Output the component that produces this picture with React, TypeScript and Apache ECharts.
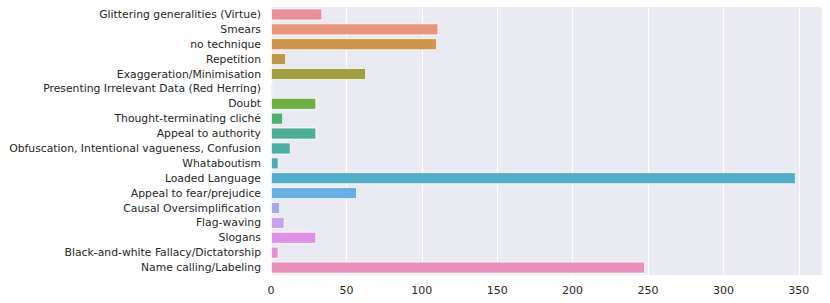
import React, { useEffect, useRef } from "react";
import * as echarts from "echarts";

const categories = [
  "Glittering generalities (Virtue)",
  "Smears",
  "no technique",
  "Repetition",
  "Exaggeration/Minimisation",
  "Presenting Irrelevant Data (Red Herring)",
  "Doubt",
  "Thought-terminating cliché",
  "Appeal to authority",
  "Obfuscation, Intentional vagueness, Confusion",
  "Whataboutism",
  "Loaded Language",
  "Appeal to fear/prejudice",
  "Causal Oversimplification",
  "Flag-waving",
  "Slogans",
  "Black-and-white Fallacy/Dictatorship",
  "Name calling/Labeling",
];

const counts = [34, 111, 110, 10, 63, 1, 30, 8, 30, 13, 5, 348, 57, 6, 9, 30, 5, 248];

const barColors = [
  "#E8919C",
  "#E8957E",
  "#D0954C",
  "#B99B48",
  "#A3A044",
  "#8DA644",
  "#6DAE45",
  "#4CB072",
  "#4CAF95",
  "#4CADA4",
  "#4DABB2",
  "#51ADC8",
  "#6AAFE2",
  "#A7A9EA",
  "#C6A3EA",
  "#DF91E8",
  "#E88FD4",
  "#E891BB",
];

const xTicks = [0, 50, 100, 150, 200, 250, 300, 350];

export default function App() {
  const ref = useRef<HTMLDivElement>(null);
  useEffect(() => {
    if (!ref.current) return;
    const chart = echarts.init(ref.current, undefined, { renderer: "svg" });
    const font = "DejaVu Sans";
    chart.setOption({
      animation: false,
      backgroundColor: "#ffffff",
      grid: {
        left: 271,
        right: 8,
        top: 7,
        bottom: 28,
        show: true,
        backgroundColor: "#EAEAF2",
        borderWidth: 0,
      },
      xAxis: {
        type: "value",
        min: 0,
        max: 365.4,
        interval: 50,
        axisLine: { show: false },
        axisTick: { show: false },
        splitLine: { show: true, lineStyle: { color: "#ffffff", width: 1.2 } },
        axisLabel: {
          show: true,
          fontFamily: font,
          fontSize: 11,
          color: "#262626",
          margin: 10,
          showMaxLabel: false,
          formatter: (v: number) => (xTicks.includes(v) ? String(v) : ""),
        },
      },
      yAxis: {
        type: "category",
        inverse: true,
        data: categories,
        axisLine: { show: false },
        axisTick: { show: false },
        splitLine: { show: false },
        axisLabel: {
          fontFamily: font,
          fontSize: 10.8,
          color: "#262626",
          margin: 10,
          interval: 0,
        },
      },
      series: [
        {
          type: "bar",
          data: counts.map((v, i) => ({
            value: v,
            itemStyle: { color: barColors[i] },
          })),
          barCategoryGap: "20%",
          itemStyle: { borderColor: "#ffffff", borderWidth: 0.8 },
        },
      ],
    });
    return () => chart.dispose();
  }, []);
  return (
    <div
      ref={ref}
      style={{ position: "fixed", left: 0, top: 0, width: 830, height: 303 }}
    />
  );
}
